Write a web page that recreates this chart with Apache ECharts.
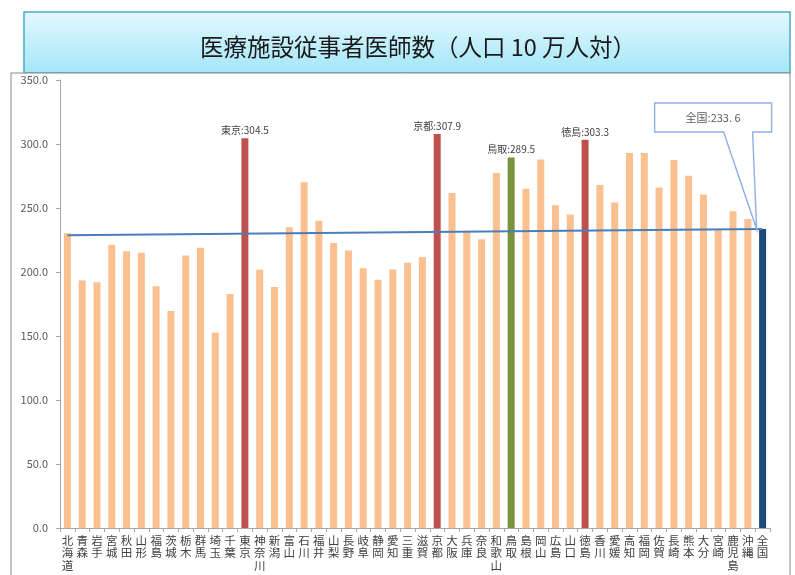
<!DOCTYPE html>
<html>
<head>
<meta charset="utf-8">
<script src="https://cdn.jsdelivr.net/npm/echarts@6/dist/echarts.min.js"></script>
<style>
  html, body { margin: 0; padding: 0; background: #fff; }
  #chart { width: 795px; height: 575px; }
</style>
</head>
<body>
<div id="chart"></div>
<script>
// 都道府県（最後は全国）
const prefectures = [
  '北海道', '青森', '岩手', '宮城', '秋田', '山形', '福島', '茨城', '栃木', '群馬',
  '埼玉', '千葉', '東京', '神奈川', '新潟', '富山', '石川', '福井', '山梨', '長野',
  '岐阜', '静岡', '愛知', '三重', '滋賀', '京都', '大阪', '兵庫', '奈良', '和歌山',
  '鳥取', '島根', '岡山', '広島', '山口', '徳島', '香川', '愛媛', '高知', '福岡',
  '佐賀', '長崎', '熊本', '大分', '宮崎', '鹿児島', '沖縄', '全国'
]
// 医療施設従事者医師数（人口10万人対）
const doctors = [
  230.2, 193.3, 192.0, 221.2, 216.3, 215.1, 188.8, 169.6, 212.8, 218.9,
  152.8, 182.9, 304.5, 201.7, 188.2, 234.9, 270.2, 240.0, 222.7, 216.8,
  202.9, 193.9, 202.0, 207.3, 211.7, 307.9, 261.8, 232.1, 225.6, 277.4,
  289.5, 265.1, 287.8, 252.2, 245.0, 303.3, 268.0, 254.3, 293.0, 292.9,
  266.0, 287.5, 275.2, 260.6, 233.0, 247.4, 241.5, 233.6
]
const redNames = ['東京', '京都', '徳島']
const greenNames = ['鳥取']
const nationalName = '全国'
// 全国平均ライン（左端, 右端）
const nationalLine = [228.8, 233.6]
const yTicks = [0, 50, 100, 150, 200, 250, 300, 350]

const chart = echarts.init(document.getElementById('chart'))

const barData = doctors.map((v, i) => {
  const name = prefectures[i]
  const item = { value: v, itemStyle: { color: '#FAC090' } }
  if (redNames.includes(name) || greenNames.includes(name)) {
    item.itemStyle = { color: greenNames.includes(name) ? '#77933C' : '#C0504D' }
    item.label = {
      show: true,
      position: 'top',
      distance: 3,
      formatter: name + ':' + v.toFixed(1),
      fontSize: 10,
      color: '#404040',
      fontFamily: 'Noto Sans CJK JP'
    }
  }
  if (name === nationalName) {
    item.itemStyle = { color: '#1F497D' }
  }
  return item
})

const nationalIdx = prefectures.indexOf(nationalName)

chart.setOption({
  animation: false,
  textStyle: { fontFamily: 'Noto Sans CJK JP' },
  graphic: [
    {
      type: 'rect',
      shape: { x: 24, y: 12, width: 766, height: 61 },
      style: {
        fill: new echarts.graphic.LinearGradient(0, 0, 0, 1, [
          { offset: 0, color: '#E4F9FE' },
          { offset: 1, color: '#A3E6F8' }
        ]),
        stroke: '#4BACC6',
        lineWidth: 1.5
      }
    },
    {
      type: 'text',
      x: 418,
      y: 47,
      style: {
        text: '医療施設従事者医師数（人口 10 万人対）',
        fontSize: 23.5,
        fill: '#1a1a1a',
        fontFamily: 'Noto Sans CJK JP',
        align: 'center',
        verticalAlign: 'middle'
      }
    },
    {
      type: 'rect',
      shape: { x: 11, y: 73, width: 779, height: 510 },
      style: { fill: '#fff', stroke: '#8A8A8A', lineWidth: 1 }
    }
  ],
  grid: { left: 60, right: 25, top: 80, bottom: 47 },
  xAxis: {
    type: 'category',
    data: prefectures,
    axisLine: { lineStyle: { color: '#A6A6A6' } },
    axisTick: { show: true, length: 4, lineStyle: { color: '#A6A6A6' } },
    axisLabel: {
      interval: 0,
      margin: 6,
      fontSize: 11.5,
      lineHeight: 12.5,
      color: '#404040',
      formatter: v => v.split('').join('\n')
    }
  },
  yAxis: {
    type: 'value',
    min: 0,
    max: 350,
    interval: 50,
    axisLine: { show: true, lineStyle: { color: '#A6A6A6' } },
    axisTick: { show: true, length: 4, lineStyle: { color: '#A6A6A6' } },
    splitLine: { show: false },
    axisLabel: {
      margin: 12,
      fontSize: 11,
      color: '#595959',
      formatter: v => (yTicks.includes(v) ? v.toFixed(1) : '')
    }
  },
  series: [
    {
      type: 'bar',
      data: barData,
      barWidth: 7,
      markLine: {
        silent: true,
        symbol: 'none',
        label: { show: false },
        lineStyle: { color: '#4A7EBB', width: 2, type: 'solid' },
        data: [[
          { coord: [-0.5, nationalLine[0]] },
          { coord: [nationalIdx - 0.4, nationalLine[1]] }
        ]]
      },
      markPoint: {
        silent: true,
        data: [{
          coord: [nationalIdx, nationalLine[1]],
          symbol: 'path://M0 0 L117 0 L117 29 L98 29 L102 126 L69 29 L0 29 Z',
          symbolSize: [117, 126],
          symbolOffset: [-49.5, -63],
          itemStyle: { color: '#fff', borderColor: '#8DB3E2', borderWidth: 1.5 },
          label: {
            show: true,
            position: 'inside',
            offset: [0, -48.5],
            formatter: nationalName + ':' + String(doctors[nationalIdx]).replace('.', '. '),
            fontSize: 11,
            color: '#595959'
          }
        }]
      }
    }
  ]
})
</script>
</body>
</html>
